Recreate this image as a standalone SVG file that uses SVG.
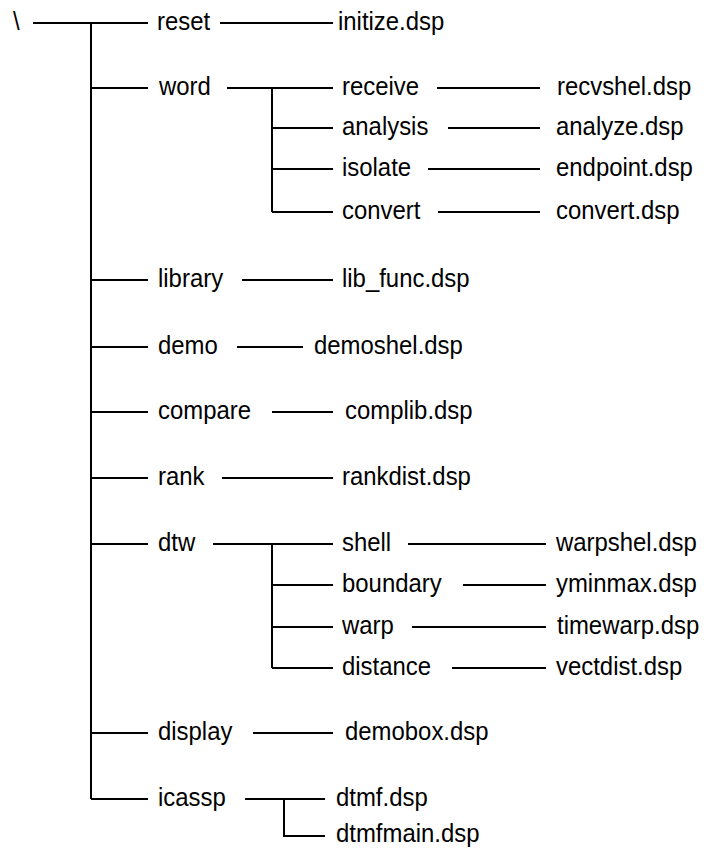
<svg xmlns="http://www.w3.org/2000/svg" width="713" height="849" viewBox="0 0 713 849">
  <style>
    .t { font-family: "Liberation Sans", Arial, sans-serif; font-size: 26px; fill: #000; }
    .c { stroke: #000; stroke-width: 2; fill: none; }
  </style>
  <rect width="713" height="849" fill="#fff"/>

  <!-- tree connectors -->
  <g id="connectors" class="c">
    <!-- root and main trunk -->
    <path d="M33 23 H148 M91 23 V799"/>
    <!-- first-level branches -->
    <path d="M91 88 H148 M91 280 H148 M91 347 H148 M91 412 H148 M91 478 H148 M91 544 H148 M91 733 H148 M91 799 H148"/>
    <!-- reset -->
    <path d="M220 23 H333"/>
    <!-- word subtree -->
    <path d="M227 88 H333 M272 88 V212 M272 128 H333 M272 169 H333 M272 212 H333"/>
    <path d="M437 88 H540 M448 128 H540 M428 169 H540 M438 212 H540"/>
    <!-- single-file branches -->
    <path d="M242 280 H333 M237 347 H303 M272 412 H333 M222 478 H333 M253 733 H333"/>
    <!-- dtw subtree -->
    <path d="M213 544 H333 M272 544 V668 M272 585 H333 M272 627 H333 M272 668 H333"/>
    <path d="M408 544 H546 M463 585 H546 M412 627 H546 M452 668 H546"/>
    <!-- icassp subtree -->
    <path d="M245 799 H325 M284 799 V836 H325"/>
  </g>

  <g id="root"><text class="t" transform="translate(13,29.5) scale(0.92,1)">\</text></g>

  <g id="reset"><text class="t" transform="translate(157,29.5) scale(0.92,1)">reset</text></g>
  <g id="initize"><text class="t" transform="translate(338,29.5) scale(0.92,1)">initize.dsp</text></g>

  <g id="word"><text class="t" transform="translate(159,94.5) scale(0.92,1)">word</text></g>
  <g id="receive"><text class="t" transform="translate(342,94.5) scale(0.92,1)">receive</text></g>
  <g id="recvshel"><text class="t" transform="translate(557,94.5) scale(0.92,1)">recvshel.dsp</text></g>
  <g id="analysis"><text class="t" transform="translate(342,134.5) scale(0.92,1)">analysis</text></g>
  <g id="analyze"><text class="t" transform="translate(556,134.5) scale(0.92,1)">analyze.dsp</text></g>
  <g id="isolate"><text class="t" transform="translate(342,175.5) scale(0.92,1)">isolate</text></g>
  <g id="endpoint"><text class="t" transform="translate(556,175.5) scale(0.92,1)">endpoint.dsp</text></g>
  <g id="convert"><text class="t" transform="translate(342,218.5) scale(0.92,1)">convert</text></g>
  <g id="convert-dsp"><text class="t" transform="translate(556,218.5) scale(0.92,1)">convert.dsp</text></g>

  <g id="library"><text class="t" transform="translate(158,286.5) scale(0.92,1)">library</text></g>
  <g id="lib-func"><text class="t" transform="translate(342,286.5) scale(0.92,1)">lib_func.dsp</text></g>

  <g id="demo"><text class="t" transform="translate(158,353.5) scale(0.92,1)">demo</text></g>
  <g id="demoshel"><text class="t" transform="translate(314,353.5) scale(0.92,1)">demoshel.dsp</text></g>

  <g id="compare"><text class="t" transform="translate(158,418.5) scale(0.92,1)">compare</text></g>
  <g id="complib"><text class="t" transform="translate(345,418.5) scale(0.92,1)">complib.dsp</text></g>

  <g id="rank"><text class="t" transform="translate(158,484.5) scale(0.92,1)">rank</text></g>
  <g id="rankdist"><text class="t" transform="translate(342,484.5) scale(0.92,1)">rankdist.dsp</text></g>

  <g id="dtw"><text class="t" transform="translate(158,550.5) scale(0.92,1)">dtw</text></g>
  <g id="shell"><text class="t" transform="translate(342,550.5) scale(0.92,1)">shell</text></g>
  <g id="warpshel"><text class="t" transform="translate(556,550.5) scale(0.92,1)">warpshel.dsp</text></g>
  <g id="boundary"><text class="t" transform="translate(342,591.5) scale(0.92,1)">boundary</text></g>
  <g id="yminmax"><text class="t" transform="translate(556,591.5) scale(0.92,1)">yminmax.dsp</text></g>
  <g id="warp"><text class="t" transform="translate(342,633.5) scale(0.92,1)">warp</text></g>
  <g id="timewarp"><text class="t" transform="translate(557,633.5) scale(0.92,1)">timewarp.dsp</text></g>
  <g id="distance"><text class="t" transform="translate(342,674.5) scale(0.92,1)">distance</text></g>
  <g id="vectdist"><text class="t" transform="translate(556,674.5) scale(0.92,1)">vectdist.dsp</text></g>

  <g id="display"><text class="t" transform="translate(158,739.5) scale(0.92,1)">display</text></g>
  <g id="demobox"><text class="t" transform="translate(345,739.5) scale(0.92,1)">demobox.dsp</text></g>

  <g id="icassp"><text class="t" transform="translate(158,805.5) scale(0.92,1)">icassp</text></g>
  <g id="dtmf"><text class="t" transform="translate(336,805.5) scale(0.92,1)">dtmf.dsp</text></g>
  <g id="dtmfmain"><text class="t" transform="translate(336,842) scale(0.92,1)">dtmfmain.dsp</text></g>
</svg>
